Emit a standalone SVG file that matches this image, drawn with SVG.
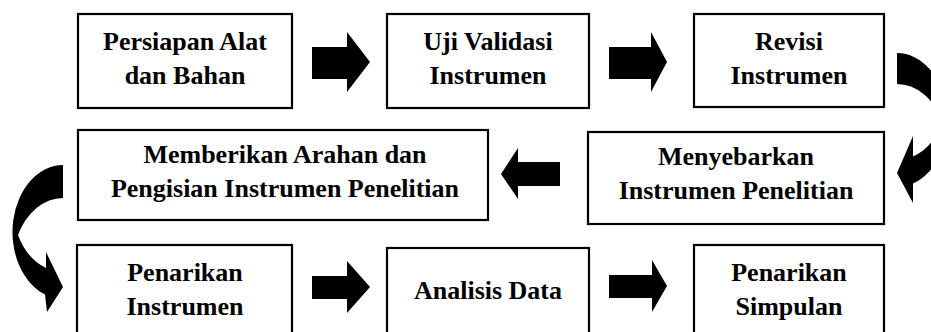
<svg xmlns="http://www.w3.org/2000/svg" width="931" height="332" viewBox="0 0 931 332">
<style>
.box{fill:#fff;stroke:#000;stroke-width:2.2}
.t{font-family:"Liberation Serif","Times New Roman",serif;font-weight:bold;font-size:26px;fill:#000;text-anchor:middle}
.ar{fill:#000;stroke:none}
</style>
<rect width="931" height="332" fill="#fff"/>
<g id="n1"><rect class="box" x="78" y="14" width="214" height="94"/><text class="t" x="185" y="50">Persiapan Alat</text><text class="t" x="185" y="84">dan Bahan</text></g>
<g id="n2"><rect class="box" x="387" y="14" width="202" height="94"/><text class="t" x="488" y="50">Uji Validasi</text><text class="t" x="488" y="84">Instrumen</text></g>
<g id="n3"><rect class="box" x="694" y="14" width="190" height="93"/><text class="t" x="789" y="50">Revisi</text><text class="t" x="789" y="84">Instrumen</text></g>
<g id="n4"><rect class="box" x="78" y="130" width="410" height="90"/><text class="t" x="285" y="163">Memberikan Arahan dan</text><text class="t" x="285" y="197">Pengisian Instrumen Penelitian</text></g>
<g id="n5"><rect class="box" x="588" y="132" width="296" height="92"/><text class="t" x="736" y="165">Menyebarkan</text><text class="t" x="736" y="199">Instrumen Penelitian</text></g>
<g id="n6"><rect class="box" x="77" y="245" width="215" height="100"/><text class="t" x="185" y="281">Penarikan</text><text class="t" x="185" y="315">Instrumen</text></g>
<g id="n7"><rect class="box" x="387" y="248" width="202" height="97"/><text class="t" x="488" y="299">Analisis Data</text></g>
<g id="n8"><rect class="box" x="694" y="245" width="190" height="100"/><text class="t" x="789" y="281">Penarikan</text><text class="t" x="789" y="315">Simpulan</text></g>
<g id="connectors">
<polygon class="ar" points="312,47 347,47 347,32 370,62 347,92 347,79 312,79"/>
<polygon class="ar" points="609,47 651,47 651,32 667,62 651,92 651,79 609,79"/>
<polygon class="ar" points="560,162 518,162 518,148 501,174 518,199 518,186 560,186"/>
<polygon class="ar" points="312,276 347,276 347,261 370,287 347,313 347,299 312,299"/>
<polygon class="ar" points="609,275 652,275 652,260 667,286 652,312 652,298 609,298"/>
<path class="ar" d="M897,53 A50.5,67 0 0 1 913,183.5 L913,203 L897,173 L913,136 L913,156.5 A50.5,67 0 0 0 942.5,122 A50.5,67 0 0 0 897,84 Z"/>
<path class="ar" d="M63,165 A50.5,67 0 0 0 45,294.6 L47,312 L63,287 L46,252 L46,268 A50.5,67 0 0 1 18,235 A50.5,67 0 0 1 63,198 Z"/>
</g>
</svg>
